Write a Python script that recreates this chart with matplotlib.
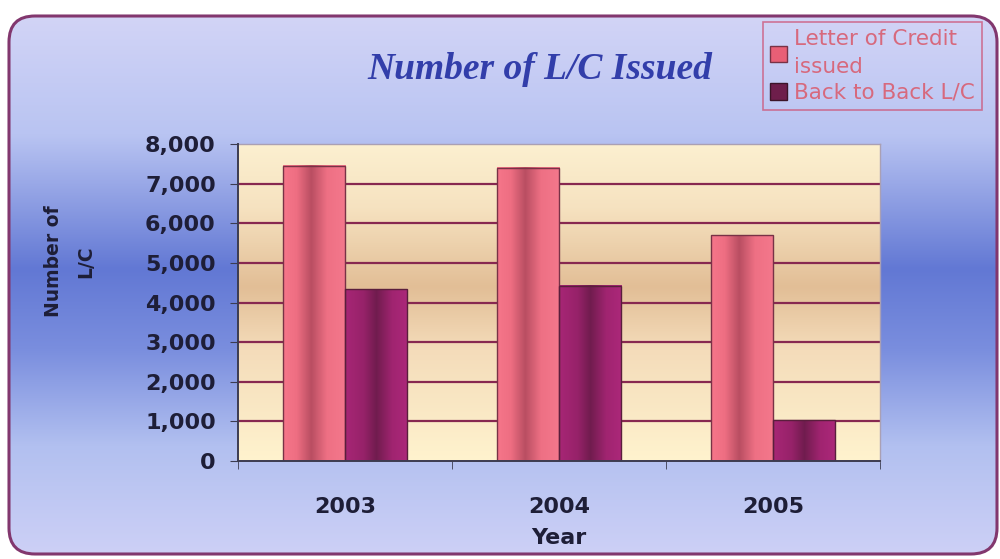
import numpy as np
import matplotlib.pyplot as plt
import matplotlib.patches as mpatches
from matplotlib.patches import FancyBboxPatch

# values per year
years = ["2003", "2004", "2005"]
letter_of_credit = [7450, 7400, 5700]
back_to_back = [4340, 4420, 1030]
series_names = ["Letter of Credit\nissued", "Back to Back L/C"]

yticks = [0, 1000, 2000, 3000, 4000, 5000, 6000, 7000, 8000]


def rgb(*c):
    return tuple(v / 255 for v in c)


def vertical_ramp(stops, n=400):
    # stops: list of (position 0..1 from top, rgb tuple)
    pos = np.array([s[0] for s in stops])
    cols = np.array([s[1] for s in stops])
    t = np.linspace(0, 1, n)
    img = np.stack([np.interp(t, pos, cols[:, k]) for k in range(3)], axis=-1)
    return img[:, None, :]


def horizontal_ramp(stops, n=200):
    return vertical_ramp(stops, n).transpose(1, 0, 2)


fig = plt.figure(figsize=(10, 5.59), dpi=100)
fig.patch.set_facecolor("white")

# backdrop with rounded border
bg = fig.add_axes([0, 0, 1, 1], zorder=-5)
bg.set_xlim(0, 1000)
bg.set_ylim(559, 0)
bg.axis("off")
frame = FancyBboxPatch((9, 16), 988, 538, boxstyle="round,pad=0,rounding_size=26",
                       facecolor="none", edgecolor=rgb(130, 55, 110), lw=2.2, zorder=3)
bg.add_patch(frame)
back_img = vertical_ramp([
    (0.00, rgb(210, 212, 246)),
    (0.22, rgb(185, 196, 242)),
    (0.47, rgb(98, 120, 212)),
    (0.62, rgb(122, 142, 222)),
    (0.80, rgb(178, 192, 240)),
    (1.00, rgb(205, 208, 246)),
])
im = bg.imshow(back_img, extent=(9, 997, 554, 16), aspect="auto", zorder=1)
im.set_clip_path(frame)

ax = fig.add_axes([0.238, 0.1753, 0.642, 0.567])
ax.set_xlim(-0.5, len(years) - 0.5)
ax.set_ylim(0, 8000)

plot_img = vertical_ramp([
    (0.00, rgb(252, 240, 208)),
    (0.20, rgb(246, 226, 192)),
    (0.45, rgb(226, 190, 150)),
    (0.65, rgb(244, 220, 186)),
    (1.00, rgb(255, 243, 206)),
])
ax.imshow(plot_img, extent=(-0.5, len(years) - 0.5, 0, 8000), aspect="auto", zorder=0)

for y in yticks[1:-1]:
    ax.axhline(y, color=rgb(135, 40, 80), lw=1.6, zorder=1)

x = np.arange(len(years))
w = 0.29
lc_color = rgb(232, 95, 118)
bb_color = rgb(110, 30, 75)
bars_lc = ax.bar(x - w / 2, letter_of_credit, w, color=lc_color,
                 edgecolor=rgb(120, 50, 70), lw=1, zorder=3)
bars_bb = ax.bar(x + w / 2, back_to_back, w, color=bb_color,
                 edgecolor=rgb(90, 30, 60), lw=1, zorder=3)

leg = fig.legend([mpatches.Patch(facecolor=lc_color, edgecolor=rgb(120, 50, 70)),
                  mpatches.Patch(facecolor=bb_color, edgecolor=rgb(60, 20, 40))],
                 series_names, loc="upper right", bbox_to_anchor=(0.993, 0.98),
                 frameon=True, fancybox=False, handlelength=0.8, handleheight=0.8,
                 handletextpad=0.3, labelspacing=0.25, borderpad=0.35,
                 prop={"family": "DejaVu Sans", "size": 15.5})
leg.get_frame().set_facecolor("none")
leg.get_frame().set_edgecolor(rgb(205, 90, 125))
leg.get_frame().set_linewidth(1.2)
for t in leg.get_texts():
    t.set_color(rgb(215, 105, 125))
    t.set_linespacing(1.5)

# cylinder-like shading inside each bar
lc_shade = horizontal_ramp([
    (0.00, rgb(246, 118, 138)),
    (0.22, rgb(238, 110, 130)),
    (0.45, rgb(185, 78, 98)),
    (0.70, rgb(238, 112, 132)),
    (1.00, rgb(244, 120, 140)),
])
bb_shade = horizontal_ramp([
    (0.00, rgb(168, 38, 118)),
    (0.30, rgb(150, 34, 105)),
    (0.50, rgb(112, 28, 78)),
    (0.75, rgb(160, 36, 112)),
    (1.00, rgb(172, 40, 122)),
])
for bars, shade in ((bars_lc, lc_shade), (bars_bb, bb_shade)):
    for b in bars:
        x0, h, bw = b.get_x(), b.get_height(), b.get_width()
        ax.imshow(shade, extent=(x0, x0 + bw, 0, h), aspect="auto", zorder=2.5)
        b.set_facecolor("none")
ax.set_xlim(-0.5, len(years) - 0.5)
ax.set_ylim(0, 8000)

tick_font = {"family": "DejaVu Sans", "weight": "bold", "size": 16}
dark = rgb(30, 30, 55)
ax.set_yticks(yticks)
ax.set_yticklabels([f"{v:,}" for v in yticks], fontdict=tick_font, color=dark)
ax.set_xticks(x)
ax.set_xticklabels(years, fontdict=tick_font, color=dark)
ax.set_xticks(np.arange(-0.5, len(years)), minor=True)
ax.tick_params(axis="x", which="major", length=0, pad=26)
ax.tick_params(axis="x", which="minor", length=6, direction="out", color=rgb(60, 60, 80))
ax.tick_params(axis="y", length=6, direction="out", color=rgb(60, 60, 80), pad=10)

for side in ("top", "right"):
    ax.spines[side].set_color(rgb(170, 160, 180))
    ax.spines[side].set_linewidth(1)
for side in ("left", "bottom"):
    ax.spines[side].set_color(rgb(60, 60, 80))
    ax.spines[side].set_linewidth(1.4)
    ax.spines[side].set_zorder(4)

ax.set_xlabel("Year", fontdict=tick_font, color=dark)
ax.xaxis.set_label_coords(0.5, -0.212)
ax.set_ylabel("Number of\nL/C", fontdict={"family": "DejaVu Sans", "weight": "bold", "size": 13.5},
              color=dark, linespacing=1.9)
ax.yaxis.set_label_coords(-0.222, 0.63)

fig.text(0.54, 0.875, "Number of L/C Issued", ha="center", va="center",
         fontsize=27, fontweight="bold", fontstyle="italic",
         family="Liberation Serif", color=rgb(50, 62, 170))

fig.savefig("out.png", dpi=100)
